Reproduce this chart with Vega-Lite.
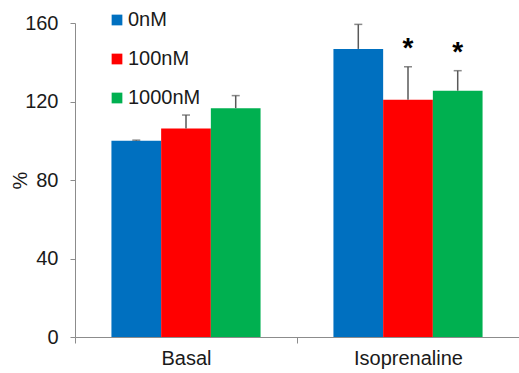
{
  "$schema": "https://vega.github.io/schema/vega-lite/v6.json",
  "width": 444,
  "height": 314,
  "autosize": {"type": "none"},
  "padding": {"left": 75, "top": 23, "right": 0, "bottom": 36},
  "background": "white",
  "config": {
    "view": {"stroke": null},
    "font": "Liberation Sans",
    "axis": {
      "domainColor": "#8c8c8c",
      "tickColor": "#8c8c8c",
      "labelColor": "#1a1a1a",
      "labelFont": "Liberation Sans",
      "labelFontSize": 20,
      "grid": false
    }
  },
  "data": {
    "values": [
      {"group": "Basal", "conc": "0nM", "value": 100.0, "upper": 100.3, "sig": ""},
      {"group": "Basal", "conc": "100nM", "value": 106.3, "upper": 113.1, "sig": ""},
      {"group": "Basal", "conc": "1000nM", "value": 116.6, "upper": 123.0, "sig": ""},
      {"group": "Isoprenaline", "conc": "0nM", "value": 146.8, "upper": 159.3, "sig": ""},
      {"group": "Isoprenaline", "conc": "100nM", "value": 120.9, "upper": 137.7, "sig": "*"},
      {"group": "Isoprenaline", "conc": "1000nM", "value": 125.5, "upper": 135.7, "sig": "*"}
    ]
  },
  "encoding": {
    "x": {
      "field": "group",
      "type": "nominal",
      "sort": ["Basal", "Isoprenaline"],
      "scale": {"paddingInner": 0, "paddingOuter": 0},
      "axis": {
        "title": null,
        "labelAngle": 0,
        "tickBand": "extent",
        "tickSize": 6,
        "labelPadding": 5
      }
    },
    "xOffset": {
      "field": "conc",
      "type": "nominal",
      "sort": ["0nM", "100nM", "1000nM"],
      "scale": {"paddingInner": 0, "paddingOuter": 0.733}
    }
  },
  "layer": [
    {
      "mark": {"type": "bar"},
      "encoding": {
        "y": {
          "field": "value",
          "type": "quantitative",
          "scale": {"domain": [0, 160]},
          "axis": {
            "title": "%",
            "titleFontSize": 20,
            "titleFontWeight": "normal",
            "titleColor": "#1a1a1a",
            "titleX": -45,
            "titleBaseline": "bottom",
            "values": [0, 40, 80, 120, 160],
            "tickSize": 5,
            "labelPadding": 12
          }
        },
        "color": {
          "field": "conc",
          "type": "nominal",
          "sort": ["0nM", "100nM", "1000nM"],
          "scale": {"domain": ["0nM", "100nM", "1000nM"], "range": ["#0070C0", "#FF0000", "#00B050"]},
          "legend": {
            "title": null,
            "orient": "none",
            "legendX": 32,
            "legendY": -13,
            "symbolType": "square",
            "symbolSize": 115,
            "symbolStrokeWidth": 0,
            "labelFontSize": 20,
            "labelColor": "#1a1a1a",
            "labelOffset": 1,
            "rowPadding": 19
          }
        }
      }
    },
    {
      "mark": {"type": "rule", "color": "#595959", "strokeWidth": 1.5},
      "encoding": {
        "y": {"field": "value", "type": "quantitative"},
        "y2": {"field": "upper"}
      }
    },
    {
      "mark": {"type": "tick", "color": "#595959", "thickness": 1.5, "size": 8, "orient": "horizontal"},
      "encoding": {
        "y": {"field": "upper", "type": "quantitative"}
      }
    },
    {
      "mark": {"type": "text", "fontSize": 28, "fontWeight": "bold", "color": "#000000", "baseline": "middle", "dy": -18},
      "encoding": {
        "y": {"field": "upper", "type": "quantitative"},
        "text": {"field": "sig"}
      }
    }
  ]
}
